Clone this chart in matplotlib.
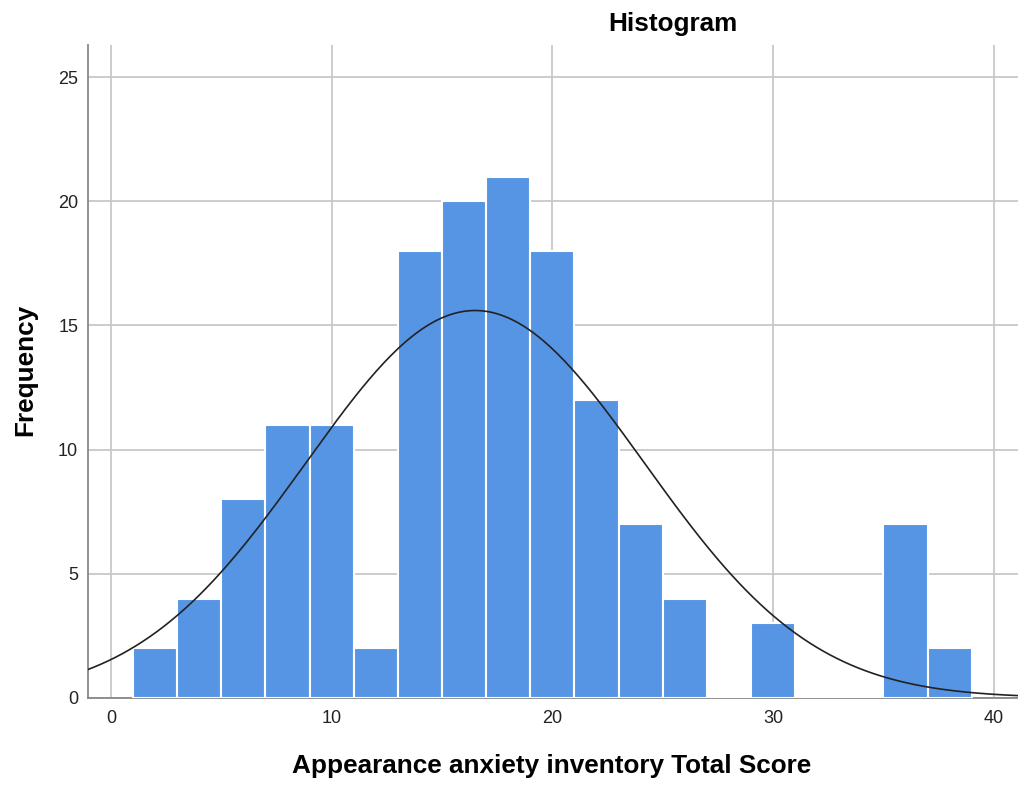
import numpy as np
import matplotlib
matplotlib.use('Agg')
import matplotlib.pyplot as plt

# histogram data (bin edges width 2, starting at 1)
bin_left = [1, 3, 5, 7, 9, 11, 13, 15, 17, 19, 21, 23, 25, 27, 29, 31, 33, 35, 37]
counts = [2, 4, 8, 11, 11, 2, 18, 20, 21, 18, 12, 7, 4, 0, 3, 0, 0, 7, 2]
bin_width = 2

# normal curve parameters
mean = 16.5
std = 7.67
n_total = sum(counts)

x_ticks = [0, 10, 20, 30, 40]
y_ticks = [0, 5, 10, 15, 20, 25]

plt.rcParams['font.family'] = ['Liberation Sans', 'DejaVu Sans']

fig = plt.figure(figsize=(10.18, 7.85), dpi=100)
ax = fig.add_axes([0.0864, 0.111, 0.9136, 0.8317])

ax.bar(bin_left, counts, width=bin_width, align='edge', color='#5694e4',
       edgecolor='white', linewidth=1.5, zorder=3)

xs = np.linspace(-1.1, 41.2, 400)
ys = n_total * bin_width / (std * np.sqrt(2 * np.pi)) * np.exp(-0.5 * ((xs - mean) / std) ** 2)
ax.plot(xs, ys, color='#222222', linewidth=1.2, zorder=4)

ax.set_xlim(-1.04, 41.1)
ax.set_ylim(0, 26.3)
ax.set_xticks(x_ticks)
ax.set_yticks(y_ticks)
ax.tick_params(length=0, labelsize=13, colors='#222222')
ax.tick_params(axis='x', pad=9)
ax.tick_params(axis='y', pad=7)
ax.grid(True, color='#c8c8c8', linewidth=1.3, zorder=0)
ax.set_axisbelow(True)

for side in ['top', 'right']:
    ax.spines[side].set_visible(False)
ax.spines['left'].set_color('#888888')
ax.spines['left'].set_linewidth(1.3)
ax.spines['bottom'].set_color('#888888')
ax.spines['bottom'].set_linewidth(1.3)

fig.text(0.661, 0.97, 'Histogram', ha='center', va='center', fontsize=18.8, fontweight='bold')
fig.text(0.542, 0.024, 'Appearance anxiety inventory Total Score', ha='center', va='center',
         fontsize=18.8, fontweight='bold')
fig.text(0.025, 0.529, 'Frequency', ha='center', va='center', rotation=90,
         fontsize=18.8, fontweight='bold')

fig.savefig('out.png', dpi=100)
